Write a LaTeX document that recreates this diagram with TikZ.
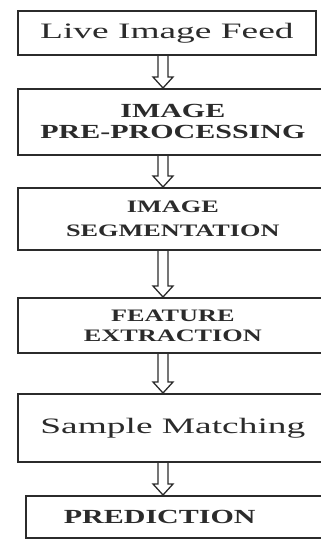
\documentclass[tikz,border=0pt]{standalone}
\usepackage{graphicx}
\usepackage{fontspec}
\setmainfont{Liberation Serif}
\usepackage{tikz}
\usetikzlibrary{calc}
\usetikzlibrary{positioning}

\definecolor{ink}{HTML}{2B2B2B}
\newcommand\wide[2][1.5]{\scalebox{#1}[1]{#2}}

\tikzset{
    box/.style={draw=ink, text=ink, line width=1.7pt, rectangle, anchor=north west, align=center, inner sep=0pt},
    flow/.style={draw=ink, line width=1.3pt, line join=miter, to path={
        let \p1=(\tikztostart), \p2=(\tikztotarget) in
        (\x1-5pt,\y1) -- (\x1-5pt,\y2+11pt) -- (\x1-10pt,\y2+11pt) -- (\x1,\y2)
        -- (\x1+10pt,\y2+11pt) -- (\x1+5pt,\y2+11pt) -- (\x1+5pt,\y1)}}
}

\begin{document}
\begin{tikzpicture}[x=1pt,y=-1pt]
    \useasboundingbox (0,0) rectangle (321,539);
    \coordinate (spine) at (163,0);

    \node[box, minimum width=298pt, minimum height=44pt, font=\fontsize{22}{24}\selectfont] (feed) at (17,10) {\wide[1.7]{Live Image Feed}};
    \node[box, minimum width=310pt, minimum height=66pt, font=\fontsize{20}{21}\selectfont\bfseries] (prep) at (17,88) {\wide{IMAGE}\\\wide{PRE-PROCESSING}};
    \node[box, minimum width=310pt, minimum height=62pt, font=\fontsize{17.5}{24}\selectfont\bfseries] (seg) at (17,187) {\wide{IMAGE}\\\wide{SEGMENTATION}};
    \node[box, minimum width=310pt, minimum height=55pt, font=\fontsize{17.5}{20}\selectfont\bfseries] (feat) at (17,297) {\wide{FEATURE}\\\wide{EXTRACTION}};
    \node[box, minimum width=310pt, minimum height=68pt, font=\fontsize{22}{24}\selectfont] (match) at (17,393) {\wide[1.7]{Sample Matching}};
    \node[box, text width=240pt, inner xsep=38pt, align=left, minimum height=42pt, font=\fontsize{20}{22}\selectfont\bfseries] (pred) at (25,495) {\wide{PREDICTION}};

    \draw[flow] (feed.south -| spine) to (prep.north -| spine);
    \draw[flow] (prep.south -| spine) to (seg.north -| spine);
    \draw[flow] (seg.south -| spine) to (feat.north -| spine);
    \draw[flow] (feat.south -| spine) to (match.north -| spine);
    \draw[flow] (match.south -| spine) to (pred.north -| spine);
\end{tikzpicture}
\end{document}
